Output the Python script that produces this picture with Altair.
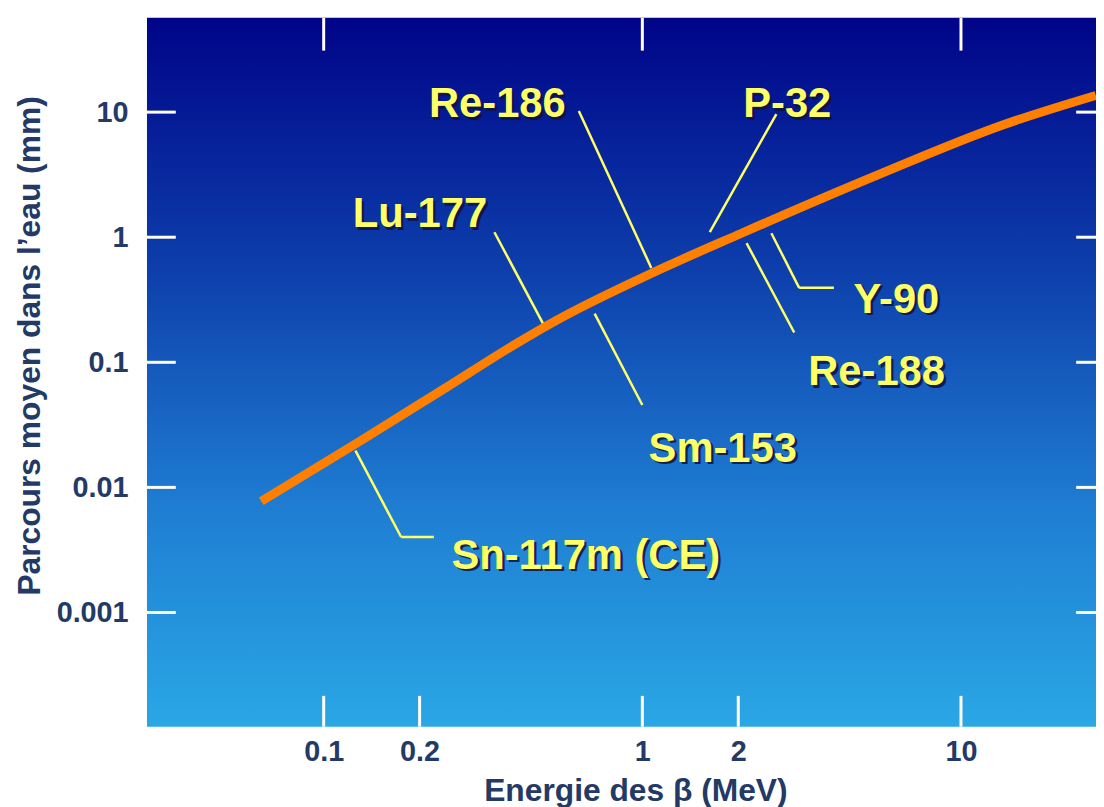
import altair as alt
import pandas as pd

# ---------------- data ----------------
energy_mev = [0.0637, 0.1276, 0.2434, 0.3936, 0.5357, 1.074, 2.049, 5.32, 13.8, 26.5]
range_mm = [0.00774, 0.02275, 0.0633, 0.1365, 0.2154, 0.5176, 1.076, 3.05, 8.04, 13.6]

label_names = ["Re-186", "P-32", "Lu-177", "Y-90", "Re-188", "Sm-153", "Sn-117m (CE)"]
label_energy = [0.3508, 2.850, 0.2005, 6.27, 5.435, 1.788, 0.6645]
label_range = [9.12, 9.12, 1.2, 0.2495, 0.0657, 0.01607, 0.002234]

seg_e1 = [0.632, 2.634, 0.3434, 0.7084, 2.124, 2.541, 3.106, 0.1258, 0.175]
seg_r1 = [10.19, 9.64, 1.096, 0.2449, 0.896, 1.076, 0.3937, 0.01967, 0.00401]
seg_e2 = [1.067, 1.628, 0.488, 1.0, 2.997, 3.106, 3.992, 0.175, 0.2217]
seg_r2 = [0.568, 1.096, 0.2039, 0.0456, 0.173, 0.3937, 0.3937, 0.00401, 0.00401]

x_ticks_bottom = [0.1, 0.2, 1, 2, 10]
x_ticks_top = [0.1, 1, 10]
y_ticks = [0.001, 0.01, 0.1, 1, 10]
x_domain = [0.02789, 26.53]
y_domain = [0.0001222, 56.7]

x_title = "Energie des β (MeV)"
y_title = "Parcours moyen dans l’eau (mm)"

# ---------------- style ----------------
W, H = 956, 714
NAVY = "#233a66"
YELLOW = "#ffff66"
FONT = "Liberation Sans"

xs = alt.Scale(type="log", domain=x_domain, nice=False)
ys = alt.Scale(type="log", domain=y_domain, nice=False)

xaxis = alt.Axis(values=x_ticks_bottom, format="~g", title=x_title, grid=False,
                 domain=False, ticks=False, tickSize=0, labelPadding=11,
                 labelFont=FONT, labelFontSize=29, labelFontWeight="bold",
                 labelColor=NAVY, labelFlush=False, labelOverlap=False,
                 titleFont=FONT, titleFontSize=32, titleFontWeight="bold",
                 titleColor=NAVY, titleX=492, titleY=74, titleAlign="center",
                 titleBaseline="alphabetic")
yaxis = alt.Axis(values=y_ticks, format="~g", title=y_title, grid=False,
                 domain=False, ticks=False, tickSize=0, labelPadding=19,
                 labelFont=FONT, labelFontSize=29, labelFontWeight="bold",
                 labelColor=NAVY, labelFlush=False, labelOverlap=False,
                 titleFont=FONT, titleFontSize=32, titleFontWeight="bold",
                 titleColor=NAVY, titleAngle=270, titleX=-118, titleY=330,
                 titleAlign="center", titleBaseline="middle")


def X(field):
    return alt.X(field, type="quantitative", scale=xs, axis=xaxis)


def Y(field):
    return alt.Y(field, type="quantitative", scale=ys, axis=yaxis)


gradient = alt.LinearGradient(
    gradient="linear", x1=0, y1=0, x2=0, y2=1,
    stops=[alt.GradientStop(offset=0, color="#000488"),
           alt.GradientStop(offset=0.35, color="#0d3eab"),
           alt.GradientStop(offset=0.7, color="#1f7fd3"),
           alt.GradientStop(offset=1, color="#2aa7e5")])

bg = alt.Chart(pd.DataFrame({"k": [0]})).mark_rect(fill=gradient).encode(
    x=alt.value(0), x2=alt.value(W), y=alt.value(0), y2=alt.value(H))

top_df = pd.DataFrame({"e": x_ticks_top})
bot_df = pd.DataFrame({"e": x_ticks_bottom})
ytk_df = pd.DataFrame({"r": y_ticks})

tick_top = alt.Chart(top_df).mark_rule(color="white", strokeWidth=3).encode(
    x=X("e"), y=alt.value(0), y2=alt.value(33))
tick_bot = alt.Chart(bot_df).mark_rule(color="white", strokeWidth=3).encode(
    x=X("e"), y=alt.value(H - 31), y2=alt.value(H))
tick_left = alt.Chart(ytk_df).mark_rule(color="white", strokeWidth=3).encode(
    y=Y("r"), x=alt.value(0), x2=alt.value(29))
tick_right = alt.Chart(ytk_df).mark_rule(color="white", strokeWidth=3).encode(
    y=Y("r"), x=alt.value(W - 20), x2=alt.value(W))

seg_df = pd.DataFrame({"e1": seg_e1, "r1": seg_r1, "e2": seg_e2, "r2": seg_r2})
leaders = alt.Chart(seg_df).mark_rule(color=YELLOW, strokeWidth=2.5).encode(
    x=X("e1"), x2="e2", y=Y("r1"), y2="r2")

curve_df = pd.DataFrame({"e": energy_mev, "r": range_mm})
curve = alt.Chart(curve_df).mark_line(
    color="#ff8000", strokeWidth=9, interpolate="monotone").encode(
    x=X("e"), y=Y("r"))

lab_df = pd.DataFrame({"name": label_names, "e": label_energy, "r": label_range})
shadow = alt.Chart(lab_df).mark_text(
    font=FONT, fontSize=42, fontWeight="bold", color="#0d1440", opacity=0.85,
    align="center", baseline="alphabetic", dx=2.5, dy=2.5).encode(
    x=X("e"), y=Y("r"), text="name:N")
labels = alt.Chart(lab_df).mark_text(
    font=FONT, fontSize=42, fontWeight="bold", color=YELLOW,
    align="center", baseline="alphabetic").encode(
    x=X("e"), y=Y("r"), text="name:N")

chart = alt.layer(bg, tick_top, tick_bot, tick_left, tick_right, leaders, curve,
                  shadow, labels).properties(
    width=W, height=H,
    autosize=alt.AutoSizeParams(type="none"),
    padding={"left": 140, "top": 7, "right": 0, "bottom": 78},
    background="white",
).configure_view(stroke=None)

chart.save("out.html", embed_options={"renderer": "svg", "actions": False})
